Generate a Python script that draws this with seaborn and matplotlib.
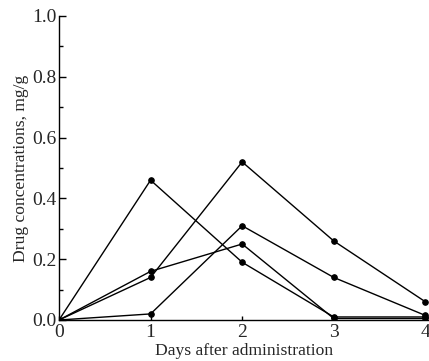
import matplotlib
matplotlib.use("Agg")
import matplotlib.pyplot as plt
import seaborn as sns
import pandas as pd
from matplotlib.ticker import MultipleLocator

days = [0, 1, 2, 3, 4]
series_a = [0.0, 0.46, 0.19, 0.010, 0.010]
series_b = [0.0, 0.14, 0.52, 0.26, 0.06]
series_c = [0.0, 0.16, 0.25, 0.005, 0.005]
series_d = [0.0, 0.02, 0.31, 0.14, 0.015]

rows = []
for name, vals in [("A", series_a), ("B", series_b), ("C", series_c), ("D", series_d)]:
    for d, v in zip(days, vals):
        rows.append({"day": d, "conc": v, "series": name})
df = pd.DataFrame(rows)

sns.set_style("ticks")
plt.rcParams['font.family'] = ['Liberation Serif', 'DejaVu Serif']

fig = plt.figure(figsize=(4.29, 3.61), dpi=100)
ax = fig.add_axes([59/429, 1 - 320/361, 1 - 59/429, (320 - 16)/361])

sns.lineplot(data=df, x="day", y="conc", units="series", estimator=None,
             color="black", linewidth=1.0, marker="o", markersize=4,
             markeredgecolor="black", ax=ax, legend=False)

ax.set_xlim(0, 4.04)
ax.set_ylim(0, 1.0)
ax.set_xticks([0, 1, 2, 3, 4])
ax.set_yticks([0.0, 0.2, 0.4, 0.6, 0.8, 1.0])
ax.set_yticklabels(["0.0", "0.2", "0.4", "0.6", "0.8", "1.0"])
ax.yaxis.set_minor_locator(MultipleLocator(0.1))
ax.tick_params(axis="both", which="both", direction="in", color="black", labelsize=14, width=1.0)
ax.tick_params(axis="y", which="major", length=5, pad=2)
ax.tick_params(axis="y", which="minor", length=3)
ax.tick_params(axis="x", which="major", length=3, pad=3)
for s in ["top", "right"]:
    ax.spines[s].set_visible(False)
for s in ["left", "bottom"]:
    ax.spines[s].set_color("black")
    ax.spines[s].set_linewidth(1.0)

ax.set_xlabel("Days after administration", fontsize=12.6, labelpad=1)
ax.set_ylabel("Drug concentrations, mg/g", fontsize=12.6, labelpad=2)

fig.savefig("out.png", dpi=100, facecolor="white")
